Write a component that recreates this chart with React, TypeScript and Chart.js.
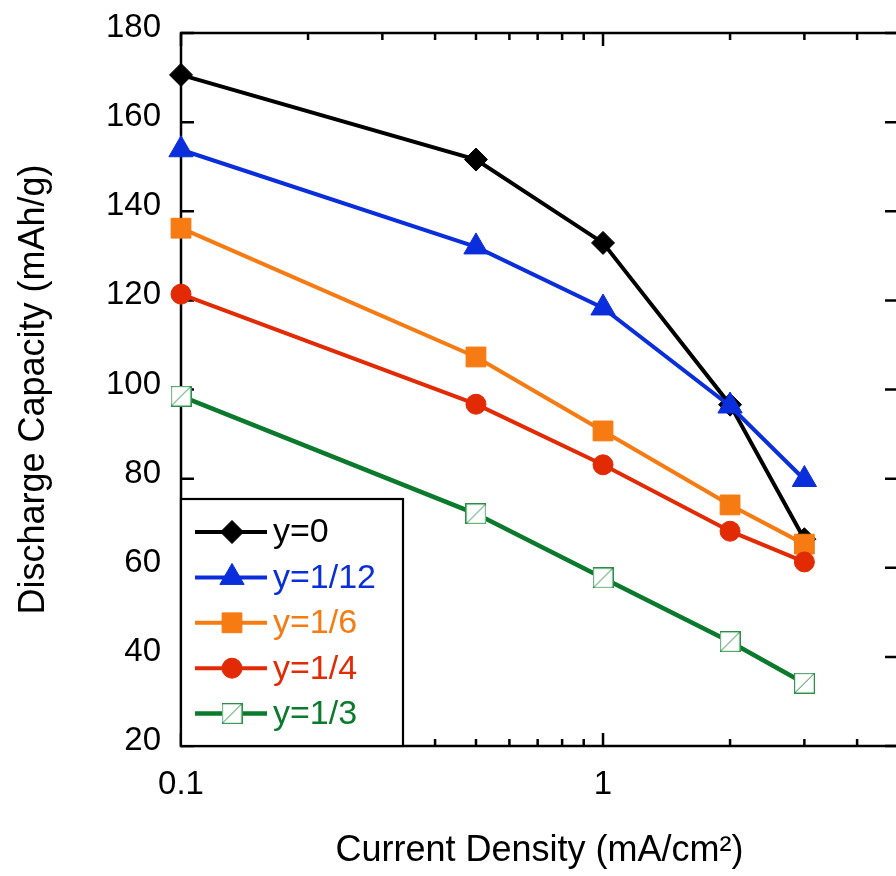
import React, { useEffect, useRef } from 'react';
import { Chart, registerables } from 'chart.js';
import { drawPoint } from 'chart.js/helpers';

Chart.register(...registerables);

// ---- data ----
const xValues = [0.1, 0.5, 1, 2, 3];
const seriesLabels = ['y=0', 'y=1/12', 'y=1/6', 'y=1/4', 'y=1/3'];
const capacityY0 = [170.6, 151.6, 132.9, 96.6, 66.4];
const capacityY1_12 = [153.8, 132.0, 118.3, 96.3, 79.8];
const capacityY1_6 = [136.2, 107.3, 90.7, 74.1, 65.3];
const capacityY1_4 = [121.4, 96.7, 83.1, 68.2, 61.3];
const capacityY1_3 = [98.5, 72.1, 57.7, 43.4, 34.1];
const xTickValues = [0.1, 0.2, 0.3, 0.4, 0.5, 0.6, 0.7, 0.8, 0.9, 1, 2, 3, 4, 5];
const xMajorTicks = [0.1, 1];
const yTickValues = [20, 40, 60, 80, 100, 120, 140, 160, 180];
const xTitle = 'Current Density (mA/cm\u00B2)';
const yTitle = 'Discharge Capacity (mAh/g)';

const FONT = '"Liberation Sans", Arial, Helvetica, sans-serif';

function makeGreenMarker(): HTMLCanvasElement {
  const c = document.createElement('canvas');
  c.width = 21;
  c.height = 21;
  const g = c.getContext('2d')!;
  g.fillStyle = '#ffffff';
  g.fillRect(0, 0, 21, 21);
  g.strokeStyle = '#2b8f4a';
  g.lineWidth = 1.2;
  g.strokeRect(0.6, 0.6, 19.8, 19.8);
  g.beginPath();
  g.moveTo(1, 20);
  g.lineTo(20, 1);
  g.lineWidth = 1;
  g.stroke();
  return c;
}

const framePlugin = {
  id: 'frameTicks',
  beforeDatasetsDraw(chart: any) {
    const { ctx, chartArea: a, scales } = chart;
    ctx.save();
    ctx.strokeStyle = '#000';
    ctx.lineWidth = 2.5;
    ctx.strokeRect(a.left, a.top, a.right - a.left, a.bottom - a.top);
    ctx.beginPath();
    for (const v of xTickValues) {
      const px = scales.x.getPixelForValue(v);
      const len = xMajorTicks.includes(v) ? 13 : 7;
      ctx.moveTo(px, a.bottom);
      ctx.lineTo(px, a.bottom - len);
      ctx.moveTo(px, a.top);
      ctx.lineTo(px, a.top + len);
    }
    for (const v of yTickValues) {
      const py = scales.y.getPixelForValue(v);
      ctx.moveTo(a.left, py);
      ctx.lineTo(a.left + 13, py);
      ctx.moveTo(a.right, py);
      ctx.lineTo(a.right - 13, py);
    }
    ctx.stroke();
    ctx.restore();
  },
};

const legendPlugin = {
  id: 'boxLegend',
  afterDatasetsDraw(chart: any) {
    const { ctx, chartArea: a } = chart;
    const left = a.left;
    const top = a.bottom - 247;
    const right = a.left + 222;
    const bottom = a.bottom;
    ctx.save();
    ctx.fillStyle = '#fff';
    ctx.fillRect(left, top, right - left, bottom - top);
    ctx.strokeStyle = '#000';
    ctx.lineWidth = 2.2;
    ctx.strokeRect(left, top, right - left, bottom - top);
    const datasets = chart.data.datasets;
    datasets.forEach((ds: any, i: number) => {
      const y = top + 33 + i * 45.4;
      ctx.strokeStyle = ds.borderColor;
      ctx.lineWidth = ds.borderWidth;
      ctx.beginPath();
      ctx.moveTo(left + 14, y);
      ctx.lineTo(left + 86, y);
      ctx.stroke();
      ctx.fillStyle = ds.pointBackgroundColor;
      ctx.strokeStyle = ds.pointBorderColor;
      ctx.lineWidth = ds.pointBorderWidth;
      drawPoint(
        ctx,
        { pointStyle: ds.pointStyle, radius: ds.pointRadius, rotation: 0, borderWidth: ds.pointBorderWidth },
        left + 51,
        y
      );
      ctx.fillStyle = ds.borderColor;
      ctx.font = `34px ${FONT}`;
      ctx.textAlign = 'left';
      ctx.textBaseline = 'middle';
      ctx.fillText(ds.label, left + 92, y + 1);
    });
    ctx.restore();
  },
};

export default function App() {
  const ref = useRef<HTMLCanvasElement>(null);

  useEffect(() => {
    const greenMarker = makeGreenMarker();
    const mk = (vals: number[]) => xValues.map((x, i) => ({ x, y: vals[i] }));
    const styles = [
      { color: '#000000', point: 'rectRot', r: 11.5, w: 4, order: 5 },
      { color: '#0a2edb', point: 'triangle', r: 14, w: 4, order: 4 },
      { color: '#f57b12', point: 'rect', r: 14, w: 4, order: 3 },
      { color: '#e22a05', point: 'circle', r: 10, w: 4, order: 2 },
      { color: '#0b7a2c', point: greenMarker, r: 10.5, w: 4.5, order: 1 },
    ];
    const series = [capacityY0, capacityY1_12, capacityY1_6, capacityY1_4, capacityY1_3];
    const datasets = series.map((vals, i) => {
      const s = styles[i];
      const isImg = typeof s.point !== 'string';
      return {
        label: seriesLabels[i],
        data: mk(vals),
        borderColor: s.color,
        backgroundColor: s.color,
        borderWidth: s.w,
        pointStyle: s.point as any,
        pointRadius: s.r,
        pointHoverRadius: s.r,
        pointBackgroundColor: isImg ? '#ffffff' : s.color,
        pointBorderColor: s.color,
        pointBorderWidth: 1,
        order: s.order,
        tension: 0,
        clip: false as any,
      };
    });

    const chart = new Chart(ref.current!, {
      type: 'line',
      data: { datasets },
      options: {
        responsive: false,
        devicePixelRatio: 1,
        animation: false,
        events: [],
        layout: { autoPadding: false, padding: { left: 0, right: 12, top: 33, bottom: 0 } },
        plugins: {
          legend: { display: false },
          tooltip: { enabled: false },
        },
        scales: {
          x: {
            type: 'logarithmic',
            min: 0.1,
            max: 5,
            grid: { display: false, drawTicks: false },
            border: { display: false },
            afterBuildTicks: (s: any) => {
              s.ticks = xTickValues.map((v) => ({ value: v }));
            },
            afterFit: (s: any) => {
              s.height = 130;
              s.paddingLeft = 0;
              s.paddingRight = 0;
              s.paddingTop = 0;
              s.paddingBottom = 0;
            },
            ticks: {
              autoSkip: false,
              maxRotation: 0,
              minRotation: 0,
              padding: 19,
              color: '#000',
              font: { family: FONT, size: 33 },
              callback: (v: any) => (xMajorTicks.includes(Number(v)) ? String(Number(v)) : ''),
            },
            title: {
              display: true,
              text: xTitle,
              color: '#000',
              font: { family: FONT, size: 36 },
              padding: { top: 0, bottom: 3 },
            },
          },
          y: {
            type: 'linear',
            min: 20,
            max: 180,
            grid: { display: false, drawTicks: false },
            border: { display: false },
            afterBuildTicks: (s: any) => {
              s.ticks = yTickValues.map((v) => ({ value: v }));
            },
            afterFit: (s: any) => {
              s.width = 181;
              s.paddingLeft = 0;
              s.paddingRight = 0;
              s.paddingTop = 0;
              s.paddingBottom = 0;
            },
            ticks: {
              padding: 20,
              labelOffset: -5,
              color: '#000',
              font: { family: FONT, size: 33 },
              callback: (v: any) => String(v),
            },
            title: {
              display: true,
              text: yTitle,
              color: '#000',
              font: { family: FONT, size: 36 },
              padding: { top: 12, bottom: 0 },
            },
          },
        },
      },
      plugins: [framePlugin, legendPlugin],
    } as any);
    return () => chart.destroy();
  }, []);

  return (
    <div
      style={{
        position: 'fixed',
        left: 0,
        top: 0,
        width: 896,
        height: 876,
        overflow: 'hidden',
        background: '#fff',
      }}
    >
      <canvas ref={ref} width={910} height={876} style={{ display: 'block', width: 910, height: 876 }} />
    </div>
  );
}
